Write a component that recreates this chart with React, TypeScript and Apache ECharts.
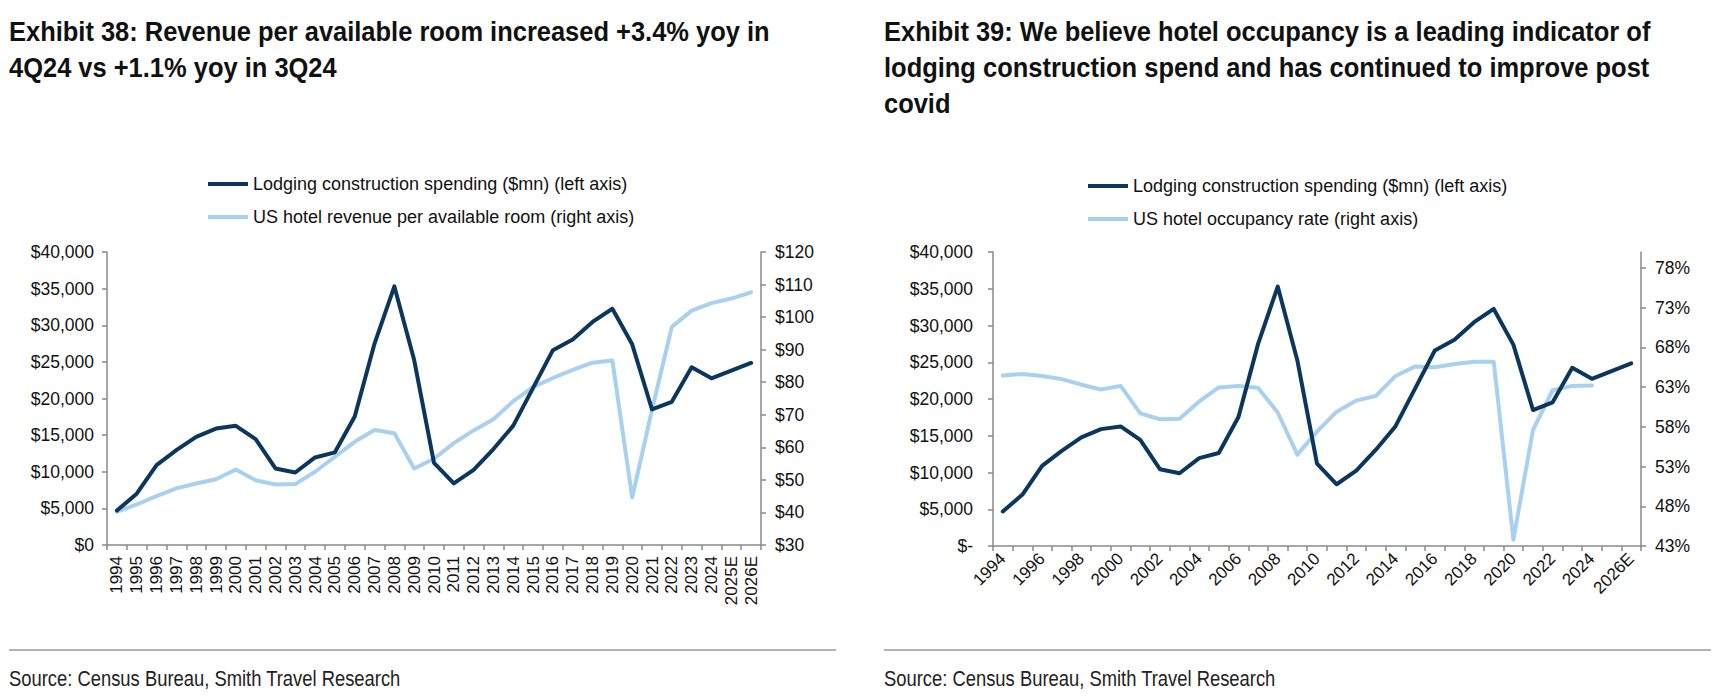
import React, { useEffect, useRef } from "react";
import * as echarts from "echarts";

const years = [
  "1994", "1995", "1996", "1997", "1998", "1999", "2000", "2001", "2002", "2003",
  "2004", "2005", "2006", "2007", "2008", "2009", "2010", "2011", "2012", "2013",
  "2014", "2015", "2016", "2017", "2018", "2019", "2020", "2021", "2022", "2023",
  "2024", "2025E", "2026E",
];

// Lodging construction spending ($mn)
const lodgingSpend = [
  4700, 7000, 10900, 12950, 14770, 15900, 16270, 14450, 10450, 9900,
  11950, 12650, 17550, 27500, 35300, 25250, 11200, 8400, 10250, 13100,
  16300, 21450, 26600, 28050, 30450, 32250, 27400, 18500, 19550, 24250,
  22750, 23800, 24850,
];

// US hotel revenue per available room ($)
const revpar = [
  40.2, 42.5, 45.0, 47.4, 48.9, 50.2, 53.2, 49.9, 48.6, 48.7,
  52.5, 57.1, 61.7, 65.3, 64.3, 53.5, 56.5, 61.3, 65.2, 68.6,
  74.2, 78.5, 81.3, 83.8, 86.0, 86.7, 44.6, 71.5, 97.0, 102.0,
  104.3, 105.7, 107.6,
];

// US hotel occupancy rate (%)
const occupancy = [
  64.45, 64.66, 64.4, 64.0, 63.3, 62.7, 63.15, 59.7, 58.95, 59.0,
  61.2, 62.95, 63.15, 62.9, 59.8, 54.5, 57.4, 59.9, 61.3, 61.9,
  64.4, 65.6, 65.5, 65.9, 66.2, 66.2, 43.8, 57.6, 62.6, 63.15,
  63.2, null, null,
];

const occTicks = [43, 48, 53, 58, 63, 68, 73, 78];

const NAME_LODGING = "Lodging construction spending ($mn) (left axis)";
const NAME_REVPAR = "US hotel revenue per available room (right axis)";
const NAME_OCC = "US hotel occupancy rate (right axis)";

const title1 = [
  "Exhibit 38: Revenue per available room increased +3.4% yoy in",
  "4Q24 vs +1.1% yoy in 3Q24",
];
const title2 = [
  "Exhibit 39: We believe hotel occupancy is a leading indicator of",
  "lodging construction spend and has continued to improve post",
  "covid",
];
const sourceText = "Source: Census Bureau, Smith Travel Research";

const DARK = "#0b365e";
const LIGHT = "#a8d0f0";
const AXIS = "#8a8a8a";
const TEXT = "#111111";
const SANS = '"Liberation Sans", Arial, sans-serif';

const fmtMoney = (v: number) => "$" + Math.round(v).toLocaleString("en-US");

export default function App() {
  const ref = useRef<HTMLDivElement>(null);

  useEffect(() => {
    document.body.style.margin = "0";
    if (!ref.current) return;
    const chart = echarts.init(ref.current, undefined, { renderer: "svg" });

    const axisLine = { show: true, lineStyle: { color: AXIS, width: 1.5 } };
    const axisTick = { show: true, length: 5, lineStyle: { color: AXIS, width: 1.5 } };
    const label = { color: TEXT, fontSize: 17.5, fontFamily: SANS };

    const lineSeries = (name: string, data: (number | null)[], color: string, xi: number, yi: number, z: number) => ({
      type: "line",
      name,
      data,
      xAxisIndex: xi,
      yAxisIndex: yi,
      symbol: "none",
      showSymbol: false,
      z,
      lineStyle: { color, width: 4, cap: "round", join: "round" },
      itemStyle: { color },
      emphasis: { disabled: true },
    });

    const titleText = (lines: string[], x: number) =>
      lines.map((t, i) => ({
        type: "text",
        x,
        y: 32 + i * 36,
        scaleX: 0.91,
        style: {
          text: t,
          font: "bold 28px " + SANS,
          fill: "#111111",
          verticalAlign: "middle",
        },
      }));

    const legendBase = {
      orient: "vertical",
      icon: "rect",
      itemWidth: 40,
      itemHeight: 4,
      itemGap: 15,
      padding: 0,
      selectedMode: false,
      textStyle: { color: TEXT, fontSize: 18, fontFamily: SANS, lineHeight: 14 },
    };

    chart.setOption({
      animation: false,
      textStyle: { fontFamily: SANS },
      grid: [
        { left: 107, top: 252, width: 654, height: 293, containLabel: false },
        { left: 993, top: 252, width: 648, height: 294, containLabel: false },
      ],
      legend: [
        { ...legendBase, data: [NAME_LODGING, NAME_REVPAR], left: 208, top: 175 },
        { ...legendBase, data: [NAME_LODGING, NAME_OCC], left: 1088, top: 177 },
      ],
      xAxis: [
        {
          type: "category",
          gridIndex: 0,
          data: years,
          boundaryGap: true,
          axisLine,
          axisTick: { ...axisTick, alignWithLabel: false, interval: 0 },
          axisLabel: { ...label, fontSize: 17, rotate: 90, interval: 0, margin: 11 },
          splitLine: { show: false },
        },
        {
          type: "category",
          gridIndex: 1,
          data: years,
          boundaryGap: true,
          axisLine,
          axisTick: { ...axisTick, alignWithLabel: false, interval: 0 },
          axisLabel: { ...label, fontSize: 17, rotate: 45, interval: 1, margin: 10 },
          splitLine: { show: false },
        },
      ],
      yAxis: [
        {
          type: "value",
          gridIndex: 0,
          min: 0,
          max: 40000,
          interval: 5000,
          axisLine,
          axisTick,
          axisLabel: { ...label, margin: 13, formatter: (v: number) => fmtMoney(v) },
          splitLine: { show: false },
        },
        {
          type: "value",
          gridIndex: 0,
          position: "right",
          min: 30,
          max: 120,
          interval: 10,
          axisLine,
          axisTick,
          axisLabel: { ...label, margin: 14, formatter: (v: number) => "$" + v },
          splitLine: { show: false },
        },
        {
          type: "value",
          gridIndex: 1,
          min: 0,
          max: 40000,
          interval: 5000,
          axisLine,
          axisTick,
          axisLabel: {
            ...label,
            margin: 20,
            formatter: (v: number) => (v === 0 ? "$-" : fmtMoney(v)),
          },
          splitLine: { show: false },
        },
        {
          type: "value",
          gridIndex: 1,
          position: "right",
          min: 43,
          max: 80,
          axisLine,
          axisTick: { ...axisTick, customValues: occTicks },
          axisLabel: { ...label, margin: 14, customValues: occTicks, formatter: (v: number) => v + "%" },
          splitLine: { show: false },
        },
      ],
      series: [
        lineSeries(NAME_REVPAR, revpar, LIGHT, 0, 1, 2),
        lineSeries(NAME_LODGING, lodgingSpend, DARK, 0, 0, 3),
        lineSeries(NAME_OCC, occupancy, LIGHT, 1, 3, 2),
        lineSeries(NAME_LODGING, lodgingSpend, DARK, 1, 2, 3),
      ],
      graphic: [
        ...titleText(title1, 9),
        ...titleText(title2, 884),
        { type: "line", shape: { x1: 9, y1: 650, x2: 836, y2: 650 }, style: { stroke: "#9a9a9a", lineWidth: 1.5 } },
        { type: "line", shape: { x1: 884, y1: 650, x2: 1711, y2: 650 }, style: { stroke: "#9a9a9a", lineWidth: 1.5 } },
        {
          type: "text",
          x: 9,
          y: 678,
          scaleX: 0.836,
          style: { text: sourceText, font: "22px " + SANS, fill: "#222222", verticalAlign: "middle" },
        },
        {
          type: "text",
          x: 884,
          y: 678,
          scaleX: 0.836,
          style: { text: sourceText, font: "22px " + SANS, fill: "#222222", verticalAlign: "middle" },
        },
      ],
    });

    return () => chart.dispose();
  }, []);

  return <div ref={ref} style={{ position: "fixed", left: 0, top: 0, width: 1721, height: 700, background: "#ffffff" }} />;
}
